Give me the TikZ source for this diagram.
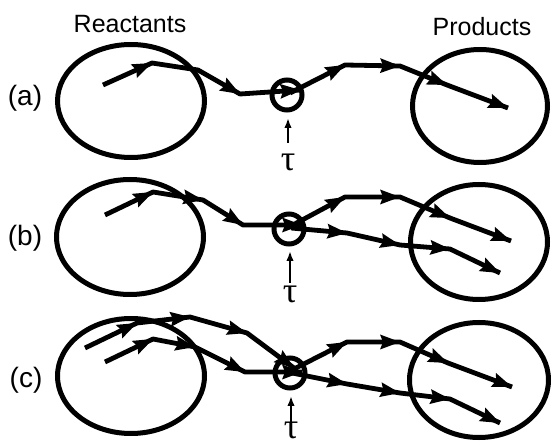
\documentclass[tikz,border=0pt]{standalone}
\usepackage{fontspec}
\setmainfont{Liberation Sans}
\newfontfamily\taufont{Liberation Serif}
\usetikzlibrary{arrows.meta,calc}

\tikzset{
  rim/.style={line width=5pt},
  trajline/.style={line width=4.8pt, line join=round},
  probe/.style={line width=2.4pt, -{Latex[length=10pt,width=7.5pt]}},
  hub/.style={line width=5pt},
  title/.style={font=\fontsize{25}{25}\selectfont, inner sep=0pt},
  rowlabel/.style={font=\fontsize{28}{28}\selectfont, inner sep=0pt},
  taulabel/.style={font=\taufont\fontsize{36}{36}\selectfont, inner sep=0pt},
}
% filled arrowhead whose tip sits on #2, pointing away from #1
\newcommand\headat[2]{%
  \fill (#2) -- ($(#2)!20pt!(#1)!7.5pt!90:(#2)$) -- ($(#2)!17pt!(#1)$)
        -- ($(#2)!20pt!(#1)!7.5pt!-90:(#2)$) -- cycle;}

\begin{document}
\begin{tikzpicture}[x=1pt,y=-1pt]
\useasboundingbox (0,0) rectangle (552,446);

% headings
\node[title] (hr) at (130,24) {Reactants};
\node[title] (hp) at (482,26.5) {Products};

% row labels
\node[rowlabel] (la) at (25,98) {(a)};
\node[rowlabel] (lb) at (25,238) {(b)};
\node[rowlabel] (lc) at (26,380) {(c)};

% reactant and product basins
\draw[rim] (131,101) ellipse [x radius=73.5pt, y radius=56.5pt];
\draw[rim] (130,237) ellipse [x radius=73.5pt, y radius=57.5pt];
\draw[rim] (131,376) ellipse [x radius=73.5pt, y radius=57.5pt];
\draw[rim] (480,106) ellipse [x radius=67.5pt, y radius=56.5pt];
\draw[rim] (479,242) ellipse [x radius=68.5pt, y radius=57.5pt];
\draw[rim] (479,380) ellipse [x radius=69.5pt, y radius=57.5pt];

% ---------- row (a) ----------
\coordinate (a0) at (103,85);
\coordinate (a1) at (152,63);
\coordinate (a2) at (198,70);
\coordinate (a3) at (240,94);
\coordinate (ain) at (300,90);
\coordinate (ac) at (287,95);
\coordinate (aout) at (290,93);
\coordinate (a4) at (345,65);
\coordinate (a5) at (400,66);
\coordinate (a6) at (447,85);
\coordinate (a7) at (508,108);
\draw[trajline] (a0) -- (a1) -- (a2) -- (a3) -- (ain);
\headat{a0}{a1} \headat{a2}{a3} \headat{a3}{ain}
\draw[trajline] (aout) -- (a4) -- (a5) -- (a6) -- (a7);
\headat{aout}{a4} \headat{a4}{a5} \headat{a5}{a6} \headat{a6}{a7}
\draw[hub] (ac) circle [radius=15pt];
\node[taulabel] (ta) at (288,162) {τ};
\coordinate (pa) at (288,143);
\coordinate (qa) at (288,118);
\draw[probe] (pa) -- (qa);

% ---------- row (b) ----------
\coordinate (b0) at (105,215);
\coordinate (b1) at (153,192);
\coordinate (b2) at (203,200);
\coordinate (b3) at (243,225);
\coordinate (bin) at (302,225);
\coordinate (bc) at (289,229);
\coordinate (bu) at (291,226);
\coordinate (bl) at (291,228);
\coordinate (b4) at (345,197);
\coordinate (b5) at (400,197);
\coordinate (b6) at (450,218);
\coordinate (b7) at (511,241);
\coordinate (b8) at (347,233);
\coordinate (b9) at (400,245);
\coordinate (b10) at (450,249);
\coordinate (b11) at (500,273);
\draw[trajline] (b0) -- (b1) -- (b2) -- (b3) -- (bin);
\headat{b0}{b1} \headat{b1}{b2} \headat{b2}{b3} \headat{b3}{bin}
\draw[trajline] (bu) -- (b4) -- (b5) -- (b6) -- (b7);
\headat{bu}{b4} \headat{b4}{b5} \headat{b5}{b6} \headat{b6}{b7}
\draw[trajline] (bl) -- (b8) -- (b9) -- (b10) -- (b11);
\headat{bl}{b8} \headat{b8}{b9} \headat{b9}{b10} \headat{b10}{b11}
\draw[hub] (bc) circle [radius=15pt];
\node[taulabel] (tb) at (290,294) {τ};
\coordinate (pb) at (290,283);
\coordinate (qb) at (290,251);
\draw[probe] (pb) -- (qb);

% ---------- row (c) ----------
\coordinate (c0) at (85,348);
\coordinate (c1) at (137,323);
\coordinate (c2) at (190,317);
\coordinate (c3) at (247,333);
\coordinate (cin) at (294,368);
\coordinate (d0) at (105,362);
\coordinate (d1) at (153,339);
\coordinate (d2) at (195,347);
\coordinate (d3) at (245,372);
\coordinate (din) at (302,372);
\coordinate (cc) at (290,373);
\coordinate (cu) at (292,370);
\coordinate (cl) at (292,373);
\coordinate (c4) at (347,342);
\coordinate (c5) at (400,342);
\coordinate (c6) at (448,363);
\coordinate (c7) at (512,387);
\coordinate (d4) at (347,384);
\coordinate (d5) at (400,393);
\coordinate (d6) at (450,399);
\coordinate (d7) at (500,423);
\draw[trajline] (c0) -- (c1) -- (c2) -- (c3) -- (cin);
\headat{c0}{c1} \headat{c1}{c2} \headat{c2}{c3} \headat{c3}{cin}
\draw[trajline] (d0) -- (d1) -- (d2) -- (d3) -- (din);
\headat{d0}{d1} \headat{d1}{d2} \headat{d2}{d3} \headat{d3}{din}
\draw[trajline] (cu) -- (c4) -- (c5) -- (c6) -- (c7);
\headat{cu}{c4} \headat{c4}{c5} \headat{c5}{c6} \headat{c6}{c7}
\draw[trajline] (cl) -- (d4) -- (d5) -- (d6) -- (d7);
\headat{cl}{d4} \headat{d4}{d5} \headat{d5}{d6} \headat{d6}{d7}
\draw[hub] (cc) circle [radius=15pt];
\node[taulabel] (tc) at (291,430) {τ};
\coordinate (pc) at (291,422);
\coordinate (qc) at (291,396);
\draw[probe] (pc) -- (qc);
\end{tikzpicture}
\end{document}
